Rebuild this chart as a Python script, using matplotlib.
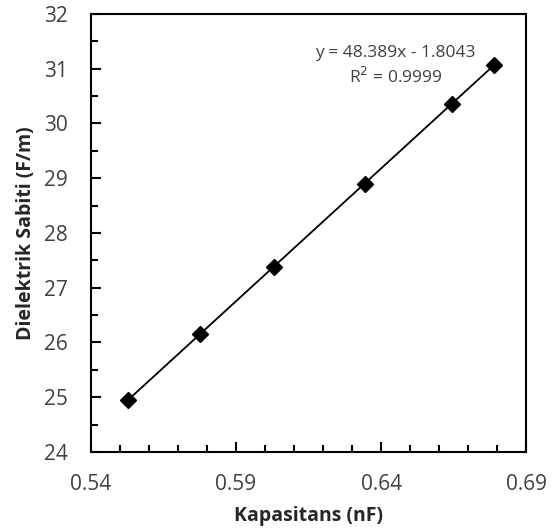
import numpy as np
import matplotlib.pyplot as plt
from matplotlib.ticker import MultipleLocator

# data
kapasitans = [0.5527, 0.5774, 0.6030, 0.6345, 0.6644, 0.6788]
dielektrik = [24.95, 26.15, 27.38, 28.90, 30.36, 31.07]
x_ticks = [0.54, 0.59, 0.64, 0.69]
y_ticks = [24, 25, 26, 27, 28, 29, 30, 31, 32]

plt.rcParams['font.family'] = ['Open Sans', 'DejaVu Sans']

fig = plt.figure(figsize=(5.55, 5.32), dpi=100)
ax = fig.add_axes([0.164, 0.1504, 0.784, 0.8233])

# linear trendline over the measured range
slope, intercept = np.polyfit(kapasitans, dielektrik, 1)
xs = np.array([min(kapasitans), max(kapasitans)])
ax.plot(xs, slope * xs + intercept, color='black', lw=1.3, zorder=2)
ax.plot(kapasitans, dielektrik, linestyle='none', marker='D', ms=8.5,
        color='black', zorder=3)

ax.text(0.6448, 31.29, 'y = 48.389x - 1.8043', ha='center', va='center',
        fontsize=12.5, color='#404040')
ax.text(0.6452, 30.85, 'R$^2$ = 0.9999', ha='center', va='center',
        fontsize=12.5, color='#404040')

ax.set_xlim(0.54, 0.69)
ax.set_ylim(24, 32)
ax.set_xticks(x_ticks)
ax.set_xticklabels([f'{t:.2f}' for t in x_ticks])
ax.set_yticks(y_ticks)
ax.xaxis.set_minor_locator(MultipleLocator(0.01))
ax.yaxis.set_minor_locator(MultipleLocator(0.5))
ax.tick_params(which='both', direction='in', width=1.5, labelsize=15,
               labelcolor='#404040', top=False, right=False)
ax.tick_params(which='major', length=7)
ax.tick_params(which='minor', length=5)
ax.tick_params(axis='x', which='major', pad=16)
ax.tick_params(axis='y', which='major', pad=16.5)
for s in ax.spines.values():
    s.set_linewidth(1.5)

ax.set_xlabel('Kapasitans (nF)', fontsize=14, fontweight='bold', color='#262626', labelpad=8)
ax.set_ylabel('Dielektrik Sabiti (F/m)', fontsize=14, fontweight='bold', color='#262626', labelpad=6)

fig.savefig('out.png', dpi=100)
